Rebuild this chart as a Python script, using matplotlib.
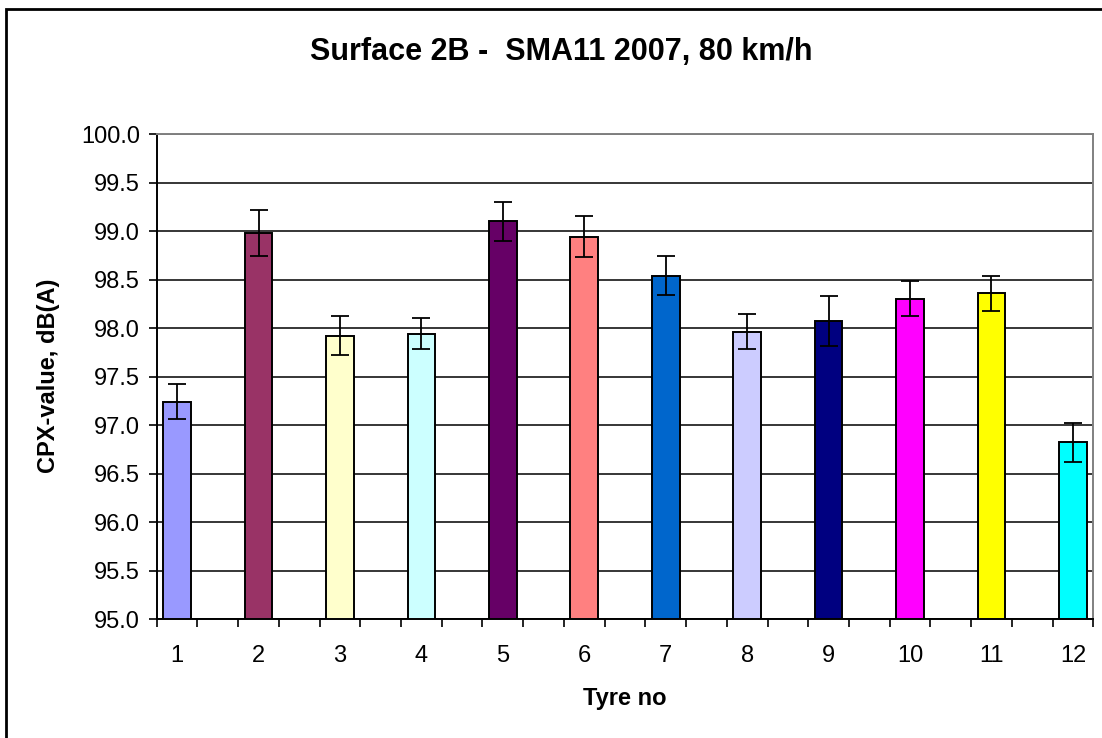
import numpy as np
import matplotlib
matplotlib.use("Agg")
import matplotlib.pyplot as plt
from matplotlib.patches import Rectangle

# CPX values per tyre
tyres = ["1", "2", "3", "4", "5", "6", "7", "8", "9", "10", "11", "12"]
cpx_values = [97.24, 98.98, 97.92, 97.94, 99.10, 98.94, 98.54, 97.96, 98.07, 98.30, 98.36, 96.82]
cpx_err = [0.18, 0.24, 0.20, 0.16, 0.20, 0.21, 0.20, 0.18, 0.26, 0.18, 0.18, 0.20]
bar_colors = ["#9999FF", "#993366", "#FFFFCC", "#CCFFFF", "#660066", "#FF8080",
              "#0066CC", "#CCCCFF", "#000080", "#FF00FF", "#FFFF00", "#00FFFF"]
y_ticks = [95.0, 95.5, 96.0, 96.5, 97.0, 97.5, 98.0, 98.5, 99.0, 99.5, 100.0]

plt.rcParams["font.family"] = ["Liberation Sans", "DejaVu Sans"]

fig = plt.figure(figsize=(11.02, 7.38), dpi=100)
ax = fig.add_axes([0.1422, 0.1612, 0.8499, 0.6572])

# chart frame
fig.patches.append(Rectangle((6 / 1102, -0.05), 1.2, 1 - 8.5 / 738 + 0.05,
                             transform=fig.transFigure, fill=False,
                             edgecolor="black", linewidth=2))

# every tyre sits on every other slot of the category axis
x = np.arange(len(tyres)) * 2
ax.bar(x, np.array(cpx_values) - 95.0, bottom=95.0, width=0.68,
       color=bar_colors, edgecolor="black", linewidth=1.4, zorder=3)
ax.errorbar(x, cpx_values, yerr=cpx_err, fmt="none", ecolor="black",
            elinewidth=1.3, capsize=6.5, capthick=1.3, zorder=4)

ax.set_xlim(-0.5, 2 * len(tyres) - 1.5)
ax.set_ylim(95.0, 100.0)
ax.set_yticks(y_ticks)
ax.set_yticklabels([f"{v:.1f}" for v in y_ticks], fontsize=17)
ax.set_xticks(x)
ax.set_xticklabels(tyres, fontsize=17)
ax.set_xticks(np.arange(-0.5, 2 * len(tyres) - 1, 1.0), minor=True)
ax.tick_params(axis="x", which="major", length=0, pad=19)
ax.tick_params(axis="x", which="minor", length=6, width=1.2, direction="out")
ax.tick_params(axis="y", which="major", length=6, width=1.2, pad=6)

ax.yaxis.grid(True, color="black", linewidth=1.1, zorder=0)
ax.set_axisbelow(True)
for side in ["left", "bottom"]:
    ax.spines[side].set_color("black")
    ax.spines[side].set_linewidth(1.4)
for side in ["top", "right"]:
    ax.spines[side].set_color("#808080")
    ax.spines[side].set_linewidth(1.4)

fig.text(561 / 1102, 1 - 52 / 738, "Surface 2B -  SMA11 2007, 80 km/h",
         ha="center", va="center", fontsize=22, fontweight="bold")
fig.text(49 / 1102, 1 - 376 / 738, "CPX-value, dB(A)", rotation=90,
         ha="center", va="center", fontsize=17, fontweight="bold")
fig.text(625 / 1102, 1 - 699 / 738, "Tyre no",
         ha="center", va="center", fontsize=17, fontweight="bold")

fig.savefig("out.png", dpi=100)
